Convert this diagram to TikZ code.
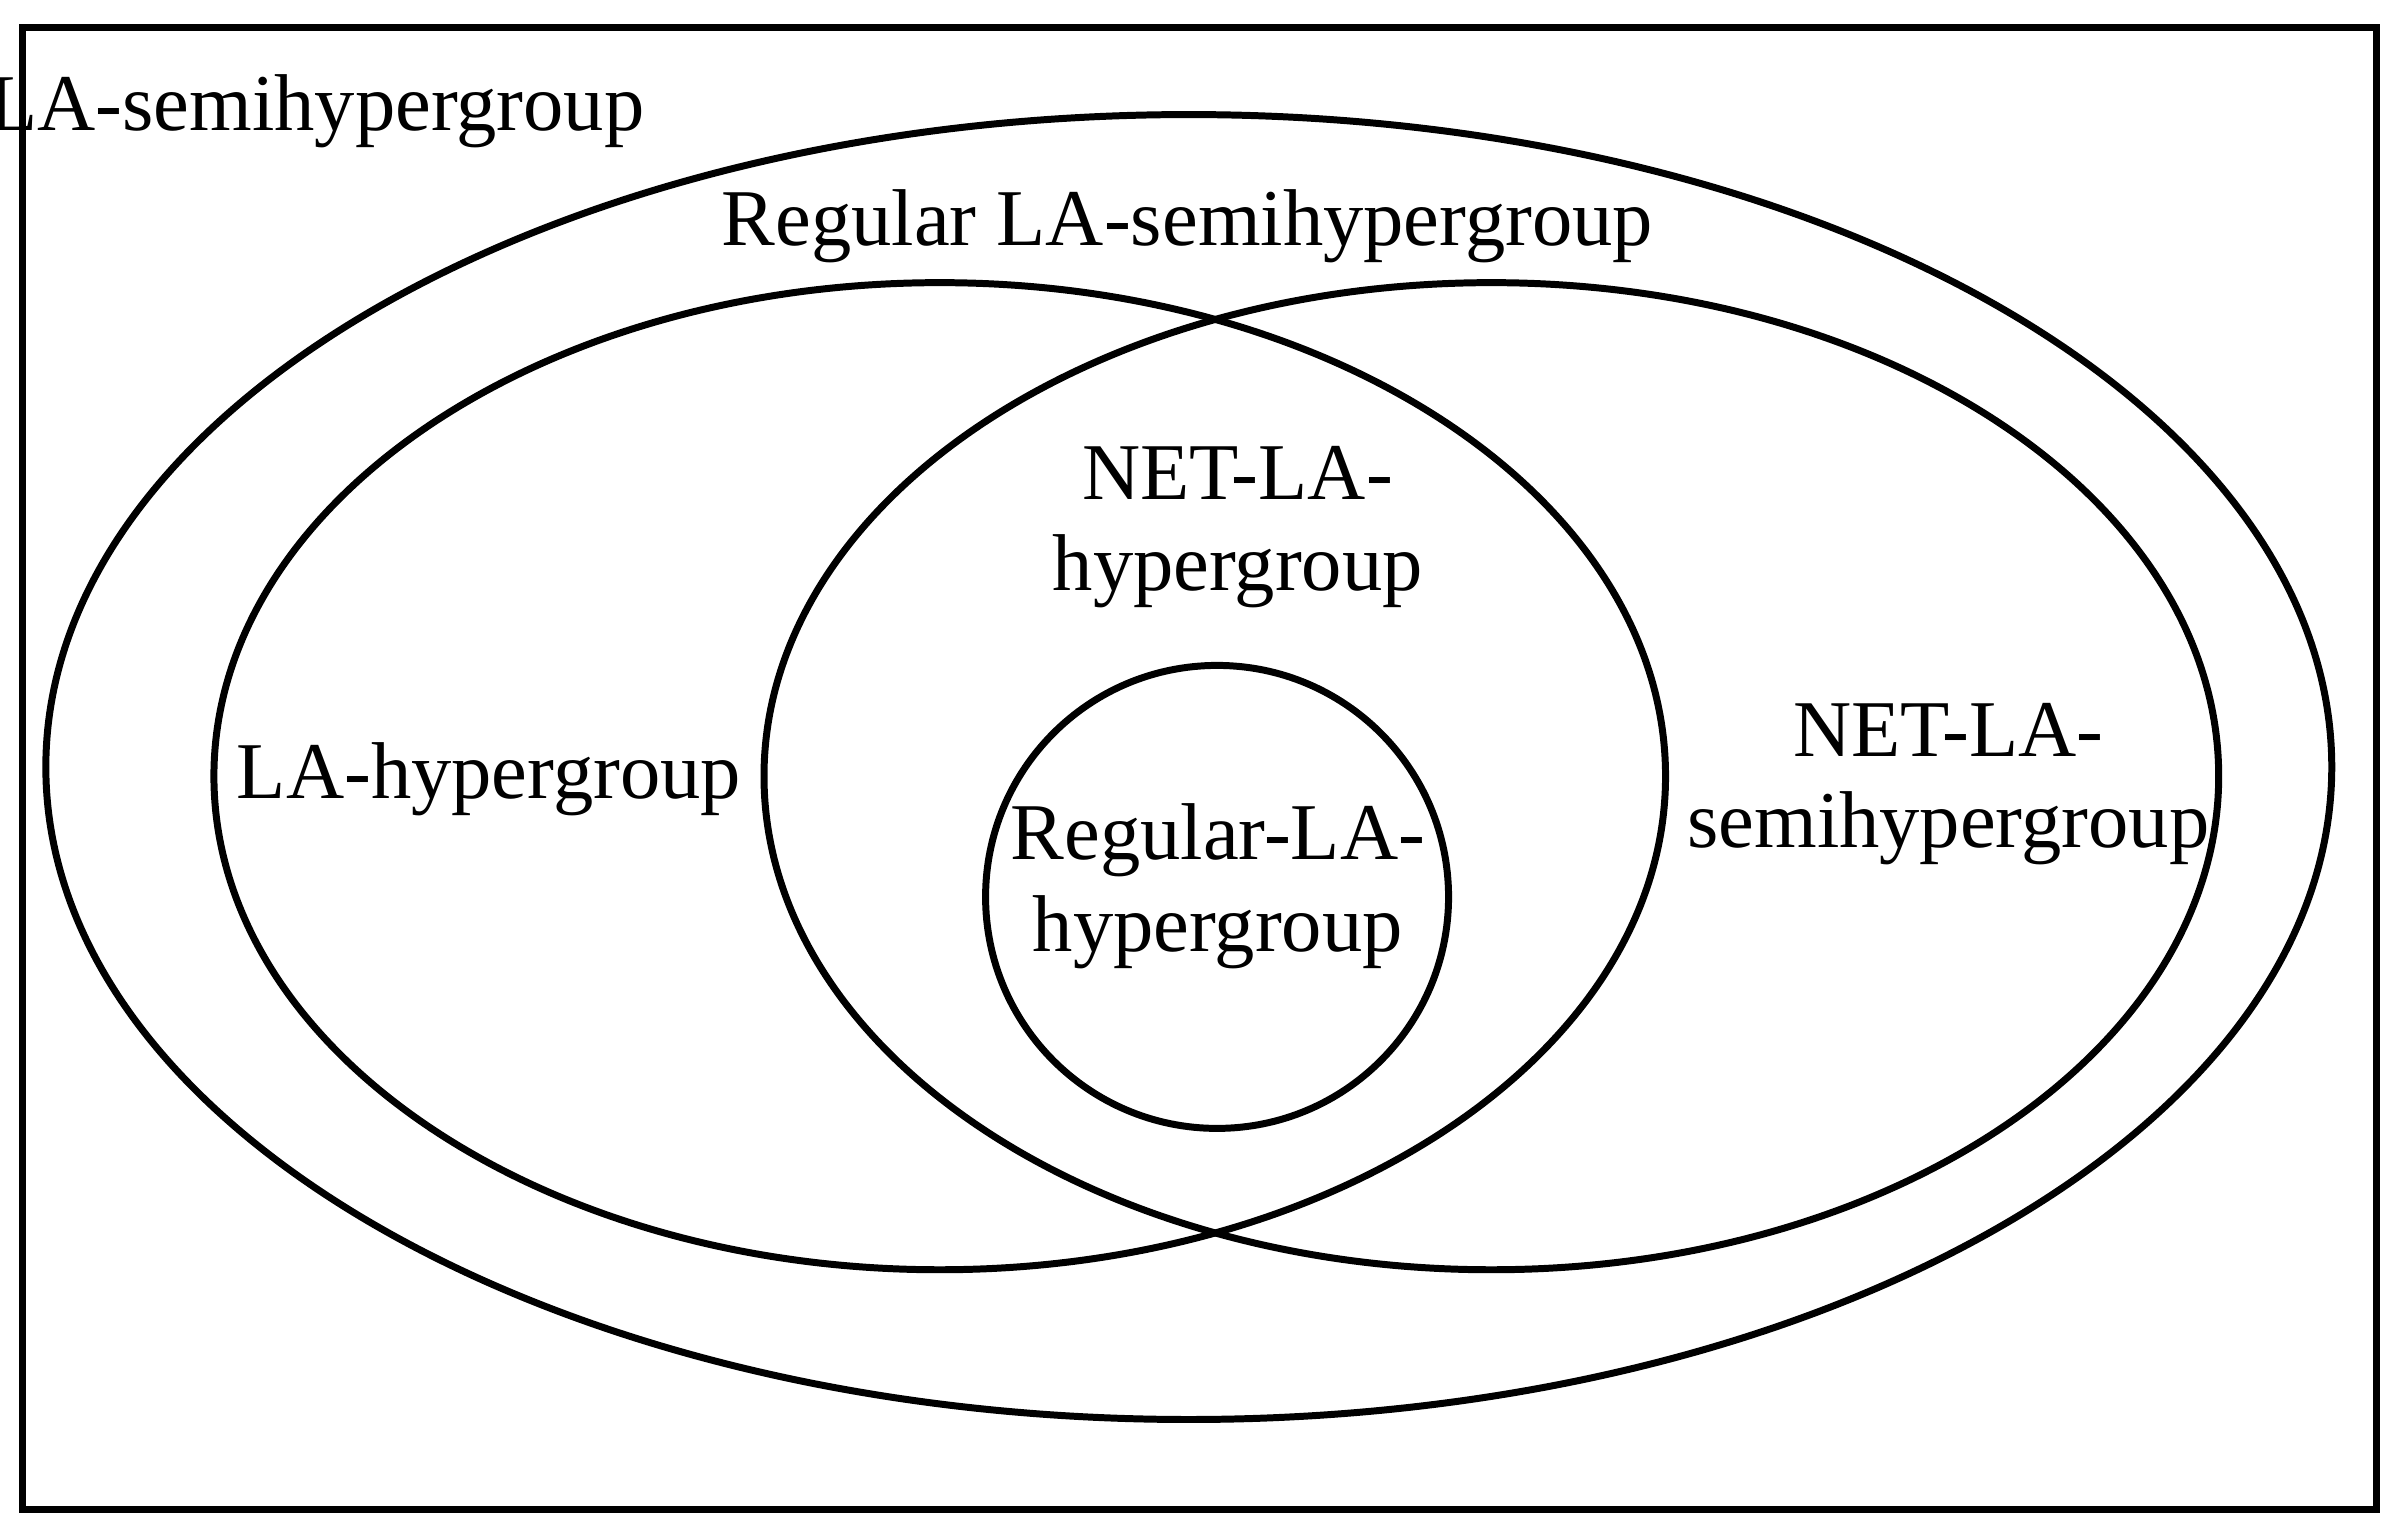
\documentclass[tikz,border=0pt]{standalone}
\usepackage{fontspec}
\setmainfont{Liberation Serif}
\usetikzlibrary{positioning,shapes.geometric}
\tikzset{
set/.style={draw, line width=1.3pt},
lab/.style={align=center, font=\fontsize{15}{17}\selectfont, inner sep=0pt}
}

\begin{document}
\begin{tikzpicture}
  \useasboundingbox (0,0) rectangle (15.687,10);
  \draw[line width=1.3pt] (0.15,0.12) rectangle (15.55,9.82);

  \node[set, ellipse, minimum width=14.96cm, minimum height=8.54cm] (regular) at (7.78,4.98) {};
  \node[set, ellipse, minimum width=9.5cm, minimum height=6.46cm] (lahyp) at (6.15,4.92) {};
  \node[set, ellipse, minimum width=9.52cm, minimum height=6.46cm] (netsemi) at (9.76,4.92) {};
  \node[set, circle, minimum width=3.03cm] (reghyp) at (7.965,4.13) {};

  \node[lab] (tSemi) at (2.07,9.27) {LA-semihypergroup};
  \node[lab] (tRegSemi) at (7.77,8.52) {Regular LA-semihypergroup};
  \node[lab] (tNetHyp) at (8.1,6.55) {NET-LA-\\hypergroup};
  \node[lab] (tLaHyp) at (3.2,4.9) {LA-hypergroup};
  \node[lab] (tNetSemi) at (12.75,4.87) {NET-LA-\\semihypergroup};
  \node[lab] (tRegHyp) at (7.97,4.2) {Regular-LA-\\hypergroup};
\end{tikzpicture}
\end{document}
